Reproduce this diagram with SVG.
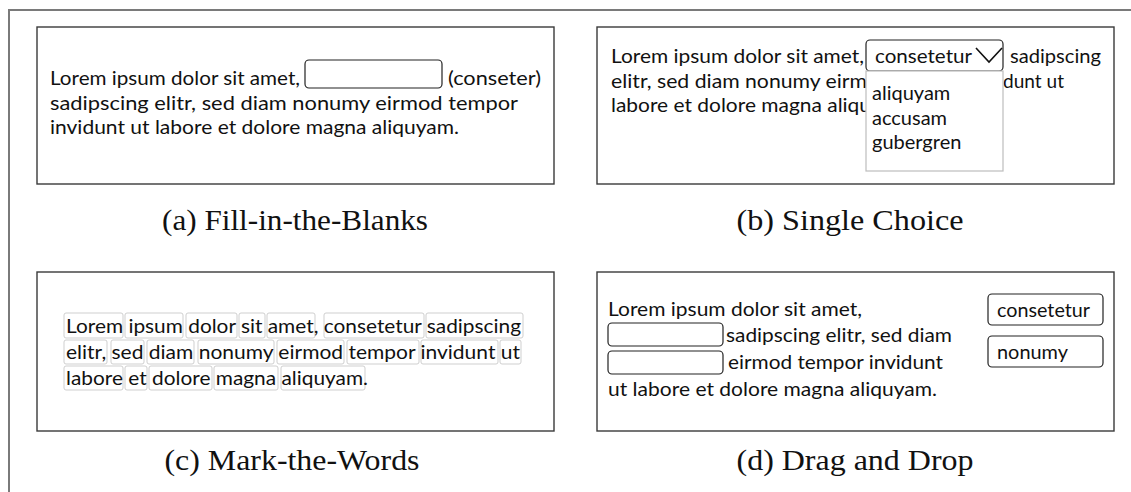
<svg xmlns="http://www.w3.org/2000/svg" width="1131" height="492" viewBox="0 0 1131 492">
  <style>
    .frame { fill: none; stroke: #7a7a7a; stroke-width: 2; }
    .panel { fill: #ffffff; stroke: #3a3a3a; stroke-width: 1.4; }
    .t { font-family: Lato, "Open Sans", sans-serif; font-size: 20px; fill: #111111; }
    .cap { font-family: "Liberation Serif", "DejaVu Serif", serif; font-size: 30px; fill: #111111; text-anchor: middle; }
    .blank { fill: #ffffff; stroke: #222222; stroke-width: 1.2; }
    .word { fill: #ffffff; stroke: #cfcfcf; stroke-width: 1; }
    .list { fill: #ffffff; stroke: #bdbdbd; stroke-width: 1.2; }
    .chev { fill: none; stroke: #111111; stroke-width: 1.6; }
  </style>

  <!-- page frame (left and top edges) -->
  <path class="frame" d="M9,492 V10 H1131"/>

  <!-- (a) fill in the blanks -->
  <g id="fill-in-the-blanks">
    <rect class="panel" x="37" y="27" width="517" height="157"/>
    <text class="t" x="50" y="85" textLength="250" lengthAdjust="spacingAndGlyphs">Lorem ipsum dolor sit amet,</text>
    <rect class="blank" x="305" y="60" width="137" height="28" rx="4"/>
    <text class="t" x="448" y="85" textLength="93" lengthAdjust="spacingAndGlyphs">(conseter)</text>
    <text class="t" x="50" y="110" textLength="468" lengthAdjust="spacingAndGlyphs">sadipscing elitr, sed diam nonumy eirmod tempor</text>
    <text class="t" x="50" y="134" textLength="409" lengthAdjust="spacingAndGlyphs">invidunt ut labore et dolore magna aliquyam.</text>
  </g>
  <text class="cap" x="295" y="230" textLength="266" lengthAdjust="spacingAndGlyphs">(a) Fill-in-the-Blanks</text>

  <!-- (b) single choice -->
  <g id="single-choice">
    <rect class="panel" x="597" y="27" width="517" height="157"/>
    <text class="t" x="611" y="63" textLength="253" lengthAdjust="spacingAndGlyphs">Lorem ipsum dolor sit amet,</text>
    <rect class="blank" x="866" y="40" width="137" height="31" rx="4"/>
    <text class="t" x="875" y="63" textLength="97" lengthAdjust="spacingAndGlyphs">consetetur</text>
    <polyline class="chev" points="976,48 989,62 1002,48"/>
    <text class="t" x="1010" y="63" textLength="91" lengthAdjust="spacingAndGlyphs">sadipscing</text>
    <text class="t" x="611" y="88" textLength="256" lengthAdjust="spacingAndGlyphs">elitr, sed diam nonumy eirm</text>
    <text class="t" x="1003" y="88" textLength="61" lengthAdjust="spacingAndGlyphs">dunt ut</text>
    <text class="t" x="611" y="112" textLength="260" lengthAdjust="spacingAndGlyphs">labore et dolore magna aliqu</text>
    <rect class="list" x="866" y="71" width="137" height="100"/>
    <text class="t" x="872" y="100">aliquyam</text>
    <text class="t" x="872" y="125">accusam</text>
    <text class="t" x="872" y="149">gubergren</text>
  </g>
  <text class="cap" x="850" y="230" textLength="227" lengthAdjust="spacingAndGlyphs">(b) Single Choice</text>

  <!-- (c) mark the words -->
  <g id="mark-the-words">
    <rect class="panel" x="37" y="272" width="517" height="159"/>
    <rect class="word" x="64" y="313" width="59" height="25" rx="2"/>
    <rect class="word" x="125" y="313" width="58" height="25" rx="2"/>
    <rect class="word" x="186" y="313" width="51" height="25" rx="2"/>
    <rect class="word" x="239" y="313" width="26" height="25" rx="2"/>
    <rect class="word" x="267" y="313" width="48" height="25" rx="2"/>
    <rect class="word" x="324" y="313" width="100" height="25" rx="2"/>
    <rect class="word" x="426" y="313" width="97" height="25" rx="2"/>
    <rect class="word" x="64" y="340" width="43" height="24" rx="2"/>
    <rect class="word" x="111" y="340" width="33" height="24" rx="2"/>
    <rect class="word" x="147" y="340" width="47" height="24" rx="2"/>
    <rect class="word" x="198" y="340" width="76" height="24" rx="2"/>
    <rect class="word" x="277" y="340" width="67" height="24" rx="2"/>
    <rect class="word" x="347" y="340" width="72" height="24" rx="2"/>
    <rect class="word" x="421" y="340" width="77" height="24" rx="2"/>
    <rect class="word" x="500" y="340" width="21" height="24" rx="2"/>
    <rect class="word" x="64" y="366" width="59" height="24" rx="2"/>
    <rect class="word" x="125" y="366" width="22" height="24" rx="2"/>
    <rect class="word" x="149" y="366" width="63" height="24" rx="2"/>
    <rect class="word" x="214" y="366" width="64" height="24" rx="2"/>
    <rect class="word" x="281" y="366" width="84" height="24" rx="2"/>
    <text class="t" x="66" y="333" textLength="455" lengthAdjust="spacingAndGlyphs">Lorem ipsum dolor sit amet, consetetur sadipscing</text>
    <text class="t" x="66" y="359" textLength="454" lengthAdjust="spacingAndGlyphs">elitr, sed diam nonumy eirmod tempor invidunt ut</text>
    <text class="t" x="66" y="385" textLength="302" lengthAdjust="spacingAndGlyphs">labore et dolore magna aliquyam.</text>
  </g>
  <text class="cap" x="292" y="470" textLength="255" lengthAdjust="spacingAndGlyphs">(c) Mark-the-Words</text>

  <!-- (d) drag and drop -->
  <g id="drag-and-drop">
    <rect class="panel" x="597" y="272" width="517" height="159"/>
    <text class="t" x="608" y="316" textLength="254" lengthAdjust="spacingAndGlyphs">Lorem ipsum dolor sit amet,</text>
    <rect class="blank" x="608" y="323" width="115" height="23" rx="4"/>
    <text class="t" x="726" y="342" textLength="226" lengthAdjust="spacingAndGlyphs">sadipscing elitr, sed diam</text>
    <rect class="blank" x="608" y="351" width="115" height="23" rx="4"/>
    <text class="t" x="728" y="369" textLength="215" lengthAdjust="spacingAndGlyphs">eirmod tempor invidunt</text>
    <text class="t" x="608" y="396" textLength="329" lengthAdjust="spacingAndGlyphs">ut labore et dolore magna aliquyam.</text>
    <rect class="blank" x="988" y="294" width="115" height="31" rx="4"/>
    <text class="t" x="997" y="317" textLength="93" lengthAdjust="spacingAndGlyphs">consetetur</text>
    <rect class="blank" x="988" y="336" width="115" height="31" rx="4"/>
    <text class="t" x="997" y="359" textLength="71" lengthAdjust="spacingAndGlyphs">nonumy</text>
  </g>
  <text class="cap" x="855" y="470" textLength="237" lengthAdjust="spacingAndGlyphs">(d) Drag and Drop</text>
</svg>
